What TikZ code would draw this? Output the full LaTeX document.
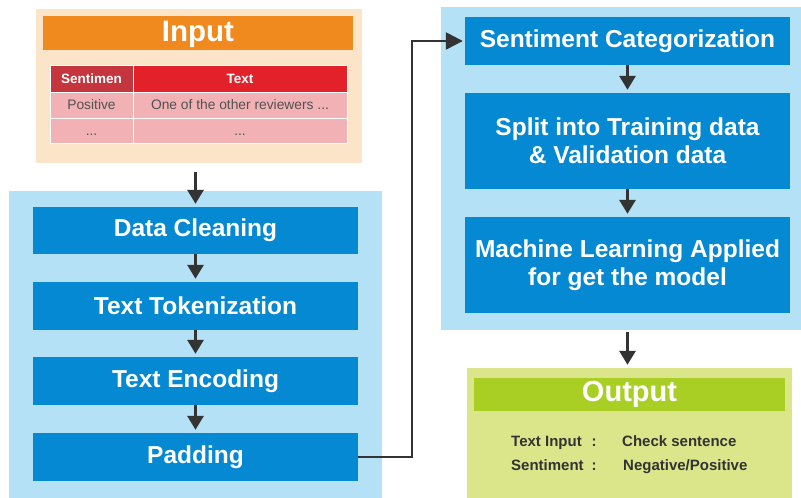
\documentclass[tikz,border=0pt]{standalone}
\usepackage{fontspec}
\setmainfont{Liberation Sans}
\usetikzlibrary{arrows.meta}
\definecolor{peach}{HTML}{FCE4C8}
\definecolor{orangeh}{HTML}{F18A1E}
\definecolor{redh}{HTML}{E3212B}
\definecolor{redd}{HTML}{C4353D}
\definecolor{pinkc}{HTML}{F2B1B4}
\definecolor{lblue}{HTML}{B4E1F6}
\definecolor{dblue}{HTML}{0589D3}
\definecolor{lgreen}{HTML}{DAE689}
\definecolor{dgreen}{HTML}{A9CF25}
\definecolor{darkg}{HTML}{333333}
\tikzset{
  panel/.style={rectangle, inner sep=0pt, draw=none},
  stepbox/.style={rectangle, inner sep=0pt, fill=dblue, text=white, minimum width=325pt,
     font=\bfseries\fontsize{24.5}{28}\selectfont, align=center},
  cell/.style={rectangle, inner sep=0pt, draw=white, line width=0.8pt, fill=pinkc,
     text=darkg!85, font=\fontsize{13.8}{16}\selectfont},
  hcell/.style={cell, text=white, font=\bfseries\fontsize{13.5}{16}\selectfont},
  arr/.style={draw=darkg, line width=3pt, -{Triangle[width=16pt,length=14pt]}},
  conn/.style={draw=darkg, line width=2.5pt, -{Triangle[width=17pt,length=17pt]}},
  otext/.style={text=darkg, font=\bfseries\fontsize{15}{18}\selectfont, inner sep=0pt},
}
\begin{document}
\begin{tikzpicture}[x=1pt,y=-1pt]
\useasboundingbox (0,0) rectangle (801,498);
\fill[white] (0,0) rectangle (801,498);
% Input panel
\node[panel, fill=peach, minimum width=326pt, minimum height=154pt] (inp) at (199,86) {};
\node[panel, fill=orangeh, minimum width=310pt, minimum height=34pt, text=white,
  text height=21pt, text depth=4pt,
  font=\bfseries\fontsize{29.5}{32}\selectfont] (inh) at (198,33) {Input};
\node[hcell, fill=redd, minimum width=83pt, minimum height=27pt] (h1) at (91.5,78.5) {Sentimen};
\node[hcell, fill=redh, minimum width=214pt, minimum height=27pt] (h2) at (240,78.5) {Text};
\node[cell, minimum width=83pt, minimum height=26pt] (c11) at (91.5,105) {Positive};
\node[cell, minimum width=214pt, minimum height=26pt] (c12) at (240,105) {One of the other reviewers ...};
\node[cell, minimum width=83pt, minimum height=25pt] (c21) at (91.5,130.5) {\smash{\raisebox{-5pt}{...}}};
\node[cell, minimum width=214pt, minimum height=25pt] (c22) at (240,130.5) {\smash{\raisebox{-5pt}{...}}};
% Left panel
\node[panel, fill=lblue, minimum width=373pt, minimum height=307pt] (lp) at (195.5,344.5) {};
\node[stepbox, minimum height=47pt] (dc) at (195.5,230.5) {Data Cleaning};
\node[stepbox, minimum height=48pt] (tt) at (195.5,306) {Text Tokenization};
\node[stepbox, minimum height=48pt] (te) at (195.5,381) {Text Encoding};
\node[stepbox, minimum height=48pt] (pd) at (195.5,457) {Padding};
% Right panel
\node[panel, fill=lblue, minimum width=360pt, minimum height=323pt] (rp) at (621,168.5) {};
\node[stepbox, minimum height=48pt] (sc) at (627.5,41) {Sentiment Categorization};
\node[stepbox, minimum height=96pt] (sp) at (627.5,141) {Split into Training data\\\& Validation data};
\node[stepbox, minimum height=96pt] (ml) at (627.5,265) {Machine Learning Applied\\for get the model};
% Output panel
\node[panel, fill=lgreen, minimum width=325pt, minimum height=130pt] (op) at (629.5,433) {};
\node[panel, fill=dgreen, minimum width=311pt, minimum height=33pt, text=white,
  text height=20.8pt, text depth=6pt,
  font=\bfseries\fontsize{29}{32}\selectfont] (oph) at (629.5,394.5) {Output};
\node[otext, anchor=base west] (t1) at (511,446.5) {Text Input};
\node[otext, anchor=base] (k1) at (594,446.5) {:};
\node[otext, anchor=base west] (v1) at (622,446.5) {Check sentence};
\node[otext, anchor=base west] (t2) at (511,470.5) {Sentiment};
\node[otext, anchor=base] (k2) at (594,470.5) {:};
\node[otext, anchor=base west] (v2) at (623,470.5) {Negative/Positive};
% Arrows
\draw[arr] ([yshift=-9pt]inp.south -| dc.north) -- ([yshift=3pt]dc.north);
\draw[arr] (dc.south) -- ([yshift=3pt]tt.north);
\draw[arr] (tt.south) -- ([yshift=3pt]te.north);
\draw[arr] (te.south) -- ([yshift=3pt]pd.north);
\draw[arr] (sc.south) -- ([yshift=3pt]sp.north);
\draw[arr] (sp.south) -- ([yshift=3pt]ml.north);
\draw[arr] ([yshift=-2pt]rp.south -| ml.south) -- ([yshift=3pt]op.north -| ml.south);
\draw[conn] (pd.east) -- ++(54,0) |- ([xshift=-2pt]sc.west);
\end{tikzpicture}
\end{document}
